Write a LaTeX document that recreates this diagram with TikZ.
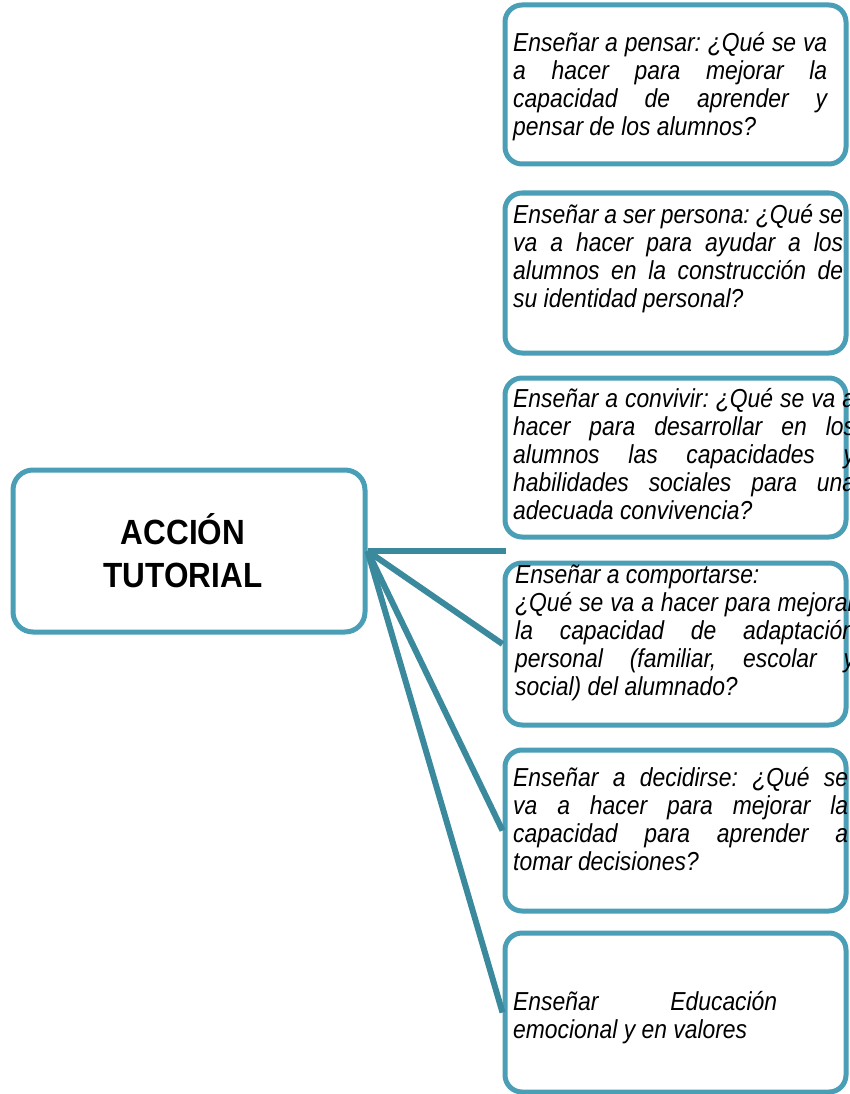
\documentclass[tikz,border=0pt]{standalone}
\usepackage{fontspec}
\setmainfont{Liberation Sans}
\newfontfamily\narrowit[FakeStretch=0.88]{Liberation Sans Italic}
\newfontfamily\narrowbf[FakeStretch=0.9]{Liberation Sans Bold}
\definecolor{boxc}{RGB}{74,158,182}
\definecolor{linec}{RGB}{58,137,156}
\frenchspacing
\tikzset{
 mainbox/.style={draw=boxc, line width=5pt, rounded corners=20pt, minimum width=352pt, minimum height=162pt, inner sep=0pt},
 maintext/.style={inner sep=0pt, align=center, font=\narrowbf\fontsize{35}{43}\selectfont},
 sidebox/.style={draw=boxc, line width=5pt, rounded corners=17pt, minimum width=341pt, inner sep=0pt},
 boxtext/.style={anchor=base west, inner sep=0pt, font=\narrowit\fontsize{26}{28}\selectfont},
 conn/.style={draw=linec, line width=6pt}
}
\begin{document}
\begin{tikzpicture}[x=1pt,y=-1pt]
\useasboundingbox (0,0) rectangle (849,1094);
\node[mainbox] (c) at (189,551) {};
\node[maintext] (ct) at (183,551) {ACCIÓN\\TUTORIAL};
\node[sidebox, minimum height=159pt] (b1) at (675.5,84.5) {};
\node[sidebox, minimum height=160pt] (b2) at (675.5,273) {};
\node[sidebox, minimum height=159pt] (b3) at (675.5,457.5) {};
\node[sidebox, minimum height=162pt] (b4) at (675.5,644) {};
\node[sidebox, minimum height=161pt] (b5) at (675.5,830.5) {};
\node[sidebox, minimum height=159pt] (b6) at (675.5,1012.5) {};
\coordinate (h) at (506,551);
\draw[conn] (c.east) -- (h);
\draw[conn] (c.east) -- (b4.west);
\draw[conn] (c.east) -- (b5.west);
\draw[conn] (c.east) -- (b6.west);
\node[boxtext] (t1) at (513,52) {\parbox[t]{314pt}{Enseñar a pensar: ¿Qué se va\linebreak a hacer para mejorar la\linebreak capacidad de aprender y\linebreak pensar de los alumnos?}};
\node[boxtext] (t2) at (513,223) {\parbox[t]{330pt}{Enseñar a ser persona: ¿Qué se\linebreak va a hacer para ayudar a los\linebreak alumnos en la construcción de\linebreak su identidad personal?}};
\node[boxtext] (t3) at (513,407) {\parbox[t]{342pt}{Enseñar a convivir: ¿Qué se va a\linebreak hacer para desarrollar en los\linebreak alumnos las capacidades y\linebreak habilidades sociales para una\linebreak adecuada convivencia?}};
\node[boxtext] (t4) at (515,583) {\parbox[t]{340pt}{Enseñar a comportarse:\newline ¿Qué se va a hacer para mejorar\linebreak la capacidad de adaptación\linebreak personal (familiar, escolar y\linebreak social) del alumnado?}};
\node[boxtext] (t5) at (513,786) {\parbox[t]{335pt}{Enseñar a decidirse: ¿Qué se\linebreak va a hacer para mejorar la\linebreak capacidad para aprender a\linebreak tomar decisiones?}};
\node[boxtext] (t6) at (513,1010) {\parbox[t]{264pt}{Enseñar Educación\linebreak emocional y en valores}};
\end{tikzpicture}
\end{document}
